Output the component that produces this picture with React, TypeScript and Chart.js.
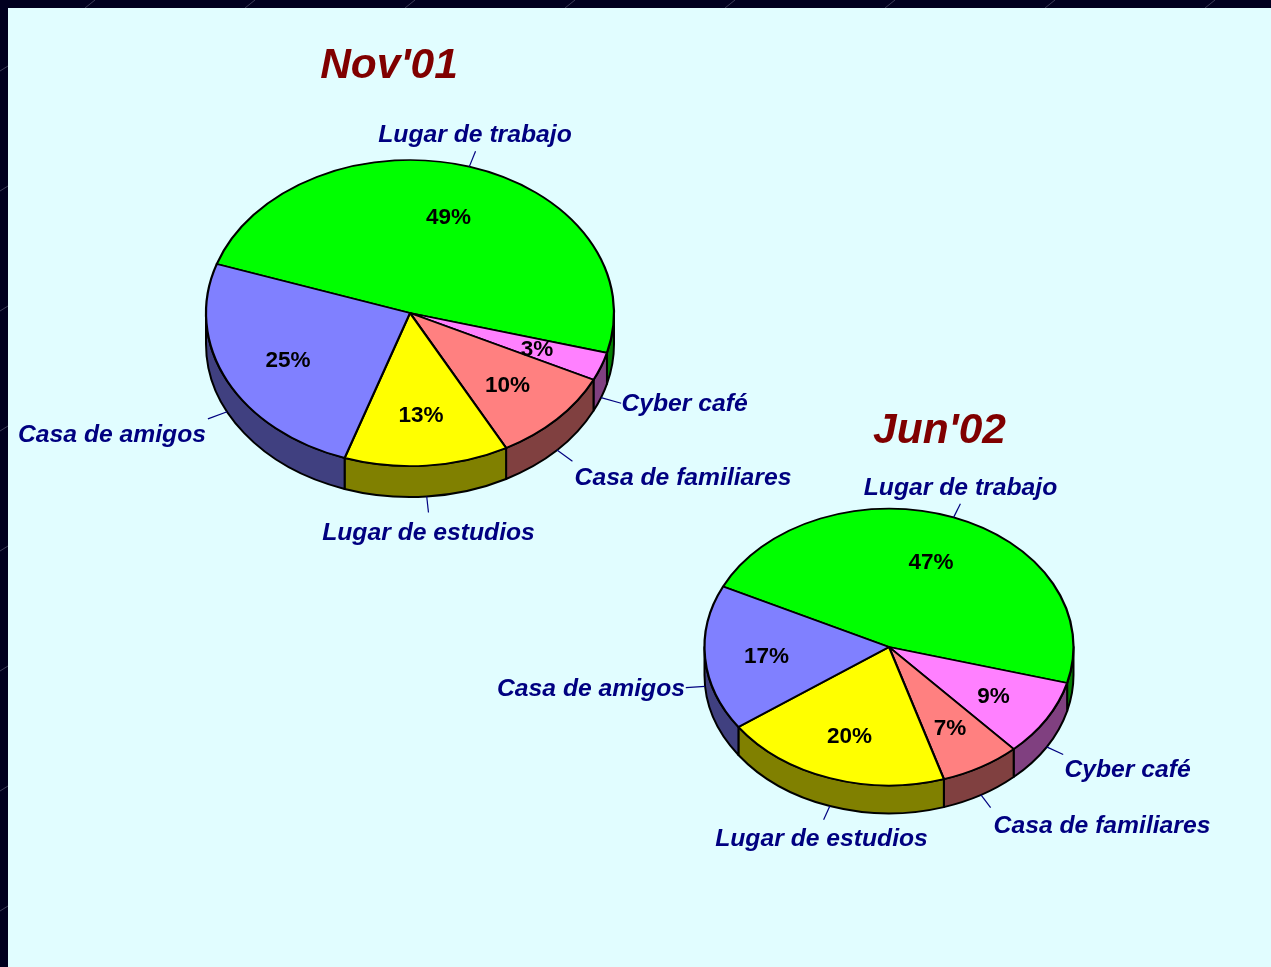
import React, { useEffect, useRef } from "react";
import { Chart, registerables } from "chart.js";

Chart.register(...registerables);

const categories = ["Lugar de trabajo", "Cyber café", "Casa de familiares", "Lugar de estudios", "Casa de amigos"];
const nov01Values = [49, 3, 10, 13, 25];
const jun02Values = [47, 9, 7, 20, 17];
const topColors = ["#00FF00", "#FF80FF", "#FF8080", "#FFFF00", "#8080FF"];
const sideColors = ["#008000", "#804080", "#804040", "#808000", "#404080"];

const FONT = '"Liberation Sans", Arial, sans-serif';
const SQUASH = 0.75;

type Pt = [number, number];

const layouts = [
  {
    title: "Nov'01",
    titlePos: [389, 66] as Pt,
    values: nov01Values,
    rotation: -71.3,
    radius: 204,
    depth: 31,
    left: 0,
    top: 0,
    width: 820,
    height: 626,
    namePos: [[475, 135], [684.5, 404], [683, 478], [428.5, 533], [112, 435]] as Pt[],
    pctPos: [[448.5, 218], [537, 350], [507.5, 386], [421, 416], [288, 361]] as Pt[],
  },
  {
    title: "Jun'02",
    titlePos: [939.5, 431] as Pt,
    values: jun02Values,
    rotation: -64.1,
    radius: 184.5,
    depth: 28,
    left: 489,
    top: 327,
    width: 800,
    height: 640,
    namePos: [[960.5, 488], [1127.5, 770], [1102, 826], [821.5, 839], [591, 689]] as Pt[],
    pctPos: [[931, 563], [993.5, 697], [950, 729], [849.5, 737], [766.5, 657]] as Pt[],
  },
];

type Layout = (typeof layouts)[number];

function drawWalls(chart: any, cfg: Layout) {
  const ctx = chart.ctx as CanvasRenderingContext2D;
  const arcs = chart.getDatasetMeta(0).data as any[];
  const TAU = Math.PI * 2;
  ctx.save();
  ctx.lineWidth = 2;
  ctx.strokeStyle = "#000";
  ctx.lineJoin = "round";
  arcs.forEach((arc, i) => {
    const { x, y, startAngle, endAngle, outerRadius } = arc;
    for (let k = -2; k <= 2; k++) {
      const a = Math.max(startAngle, k * TAU);
      const b = Math.min(endAngle, k * TAU + Math.PI);
      if (b <= a) continue;
      ctx.beginPath();
      ctx.ellipse(x, y, outerRadius, outerRadius * SQUASH, 0, a, b, false);
      ctx.ellipse(x, y + cfg.depth, outerRadius, outerRadius * SQUASH, 0, b, a, true);
      ctx.closePath();
      ctx.fillStyle = sideColors[i];
      ctx.fill();
      ctx.stroke();
    }
  });
  ctx.restore();
}

function drawText(
  ctx: CanvasRenderingContext2D,
  text: string,
  pos: Pt,
  cfg: Layout,
  font: string,
  color: string
) {
  ctx.font = font;
  ctx.fillStyle = color;
  ctx.textAlign = "center";
  ctx.textBaseline = "middle";
  ctx.fillText(text, pos[0] - cfg.left, pos[1] - cfg.top);
}

function makePlugin(cfg: Layout) {
  return {
    id: "pie3d",
    beforeDatasetsDraw(chart: any) {
      drawWalls(chart, cfg);
      const arc = chart.getDatasetMeta(0).data[0];
      const ctx = chart.ctx;
      ctx.save();
      ctx.translate(arc.x, arc.y);
      ctx.scale(1, SQUASH);
      ctx.translate(-arc.x, -arc.y);
    },
    afterDatasetsDraw(chart: any) {
      const ctx = chart.ctx as CanvasRenderingContext2D;
      ctx.restore();
      const arcs = chart.getDatasetMeta(0).data as any[];
      ctx.save();
      // leader lines, radial from the mid-angle of each slice
      ctx.strokeStyle = "#000080";
      ctx.lineWidth = 1.2;
      arcs.forEach((arc) => {
        const mid = (arc.startAngle + arc.endAngle) / 2;
        const dx = arc.outerRadius * Math.cos(mid);
        const dy = arc.outerRadius * SQUASH * Math.sin(mid);
        const drop = Math.sin(mid) > 0 ? cfg.depth : 0;
        ctx.beginPath();
        ctx.moveTo(arc.x + dx, arc.y + dy + drop);
        ctx.lineTo(arc.x + dx * 1.105, arc.y + dy * 1.105 + drop);
        ctx.stroke();
      });
      categories.forEach((name, i) => {
        drawText(ctx, name, cfg.namePos[i], cfg, `italic bold 24.7px ${FONT}`, "#000080");
        drawText(ctx, `${cfg.values[i]}%`, cfg.pctPos[i], cfg, `bold 22.5px ${FONT}`, "#000000");
      });
      drawText(ctx, cfg.title, cfg.titlePos, cfg, `italic bold 42.5px ${FONT}`, "#800000");
      ctx.restore();
    },
  };
}

function Pie({ cfg }: { cfg: Layout }) {
  const ref = useRef<HTMLCanvasElement>(null);
  useEffect(() => {
    const chart = new Chart(ref.current!, {
      type: "pie",
      data: {
        labels: categories,
        datasets: [
          {
            data: cfg.values,
            backgroundColor: topColors,
            borderColor: "#000000",
            borderWidth: 2.25,
            borderJoinStyle: "round",
            clip: false,
          } as any,
        ],
      },
      options: {
        animation: false,
        responsive: false,
        devicePixelRatio: 1,
        rotation: cfg.rotation,
        radius: cfg.radius,
        events: [],
        plugins: { legend: { display: false }, tooltip: { enabled: false }, title: { display: false } },
      } as any,
      plugins: [makePlugin(cfg)],
    });
    return () => chart.destroy();
  }, [cfg]);
  return (
    <canvas
      ref={ref}
      width={cfg.width}
      height={cfg.height}
      style={{ position: "absolute", left: cfg.left, top: cfg.top, width: cfg.width, height: cfg.height }}
    />
  );
}

const tile =
  "data:image/svg+xml," +
  encodeURIComponent(
    '<svg xmlns="http://www.w3.org/2000/svg" width="160" height="120"><rect width="160" height="120" fill="#00001F"/>' +
      '<path d="M85 8L95 0M0 71L8 66" stroke="#3C3C58" stroke-width="1" fill="none"/></svg>'
  );

export default function App() {
  return (
    <>
      <style>{`html,body{overflow:hidden;background:#00001F url("${tile}") repeat;}`}</style>
      <div style={{ position: "absolute", left: 0, top: 0, width: 1271, height: 967, overflow: "hidden" }}>
        <div style={{ position: "absolute", left: 8, top: 8, right: 0, bottom: 0, background: "#E1FDFF" }} />
        {layouts.map((cfg) => (
          <Pie key={cfg.title} cfg={cfg} />
        ))}
      </div>
    </>
  );
}
